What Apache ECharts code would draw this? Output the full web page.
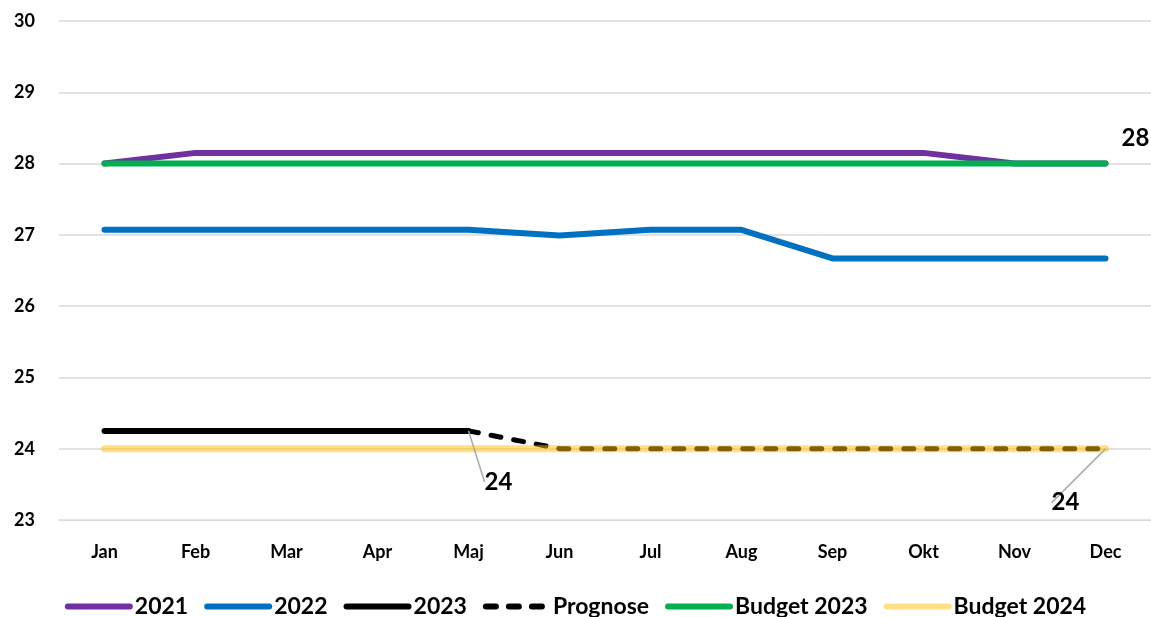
<!DOCTYPE html>
<html>
<head>
<meta charset="utf-8">
<script src="https://cdn.jsdelivr.net/npm/echarts@6/dist/echarts.min.js"></script>
<style>
  html, body { margin: 0; padding: 0; background: #fff; }
  #chart { width: 1151px; height: 617px; }
</style>
</head>
<body>
<div id="chart"></div>
<script>
// data
var months = ['Jan', 'Feb', 'Mar', 'Apr', 'Maj', 'Jun', 'Jul', 'Aug', 'Sep', 'Okt', 'Nov', 'Dec'];
var y2021 = [28, 28.15, 28.15, 28.15, 28.15, 28.15, 28.15, 28.15, 28.15, 28.15, 28, 28];
var y2022 = [27.07, 27.07, 27.07, 27.07, 27.07, 26.99, 27.07, 27.07, 26.67, 26.67, 26.67, 26.67];
var y2023 = [24.25, 24.25, 24.25, 24.25, 24.25, null, null, null, null, null, null, null];
var prognose = [null, null, null, null, 24.25, 24, 24, 24, 24, 24, 24, 24];
var budget2023 = [28, 28, 28, 28, 28, 28, 28, 28, 28, 28, 28, 28];
var budget2024 = [24, 24, 24, 24, 24, 24, 24, 24, 24, 24, 24, 24];
var yTicks = { min: 23, max: 30, step: 1 };

var font = 'Lato, "Open Sans", sans-serif';
var chart = echarts.init(document.getElementById('chart'));

function line(name, data, color, extra) {
  var s = {
    name: name,
    type: 'line',
    data: data,
    symbol: 'circle',
    symbolSize: 0,
    showSymbol: true,
    animation: false,
    lineStyle: { color: color, width: 6, cap: 'round', join: 'round' },
    itemStyle: { color: color }
  };
  for (var k in extra) s[k] = extra[k];
  return s;
}

// put a single data label on point idx
function labelled(data, idx, withLine) {
  return data.map(function (v, i) {
    if (i !== idx) return v;
    return {
      value: v,
      label: {
        show: true,
        position: 'top',
        fontFamily: font,
        fontWeight: 'bold',
        fontSize: 24,
        color: '#000',
        formatter: function (p) { return String(Math.round(p.value)); }
      },
      labelLine: { show: withLine, lineStyle: { color: '#a6a6a6', width: 1.5 } }
    };
  });
}

function moveLabel(idx, dx, dy) {
  return function (p) { return p.dataIndex === idx ? { dx: dx, dy: dy } : {}; };
}

var option = {
  backgroundColor: '#fff',
  grid: { left: 59, right: -2, top: 21, bottom: 97 },
  xAxis: {
    type: 'category',
    data: months,
    boundaryGap: true,
    axisLine: { show: true, lineStyle: { color: '#d9d9d9' } },
    axisTick: { show: false },
    axisLabel: { color: '#000', fontFamily: font, fontWeight: 'bold', fontSize: 18, margin: 23 }
  },
  yAxis: {
    type: 'value',
    min: yTicks.min,
    max: yTicks.max,
    interval: yTicks.step,
    axisLine: { show: false },
    axisTick: { show: false },
    axisLabel: { color: '#000', fontFamily: font, fontWeight: 'bold', fontSize: 18, margin: 24 },
    splitLine: { lineStyle: { color: '#d9d9d9', width: 1.5 } }
  },
  legend: {
    bottom: -6,
    left: 'center',
    itemWidth: 62,
    itemHeight: 14,
    itemGap: 16,
    itemStyle: { opacity: 0 },
    lineStyle: { width: 6, cap: 'round' },
    textStyle: { color: '#000', fontFamily: font, fontWeight: 'bold', fontSize: 23 },
    data: ['2021', '2022', '2023', 'Prognose', 'Budget 2023', 'Budget 2024']
  },
  series: [
    line('2021', y2021, '#7030a0', {}),
    line('2022', y2022, '#0070c0', {}),
    line('Budget 2023', labelled(budget2023, 11, false), '#00b050', {
      labelLayout: moveLabel(11, 30, -8)
    }),
    line('2023', labelled(y2023, 4, true), '#000000', {
      labelLayout: moveLabel(4, 30, 68)
    }),
    line('Prognose', prognose, '#000000', {
      lineStyle: { color: '#000', width: 5, type: [10, 13], cap: 'round' }
    }),
    line('Budget 2024', labelled(budget2024, 11, true), '#ffc000', {
      lineStyle: { color: '#ffc000', width: 7, opacity: 0.5, cap: 'round' },
      labelLayout: moveLabel(11, -40, 71)
    })
  ]
};

chart.setOption(option);
</script>
</body>
</html>
